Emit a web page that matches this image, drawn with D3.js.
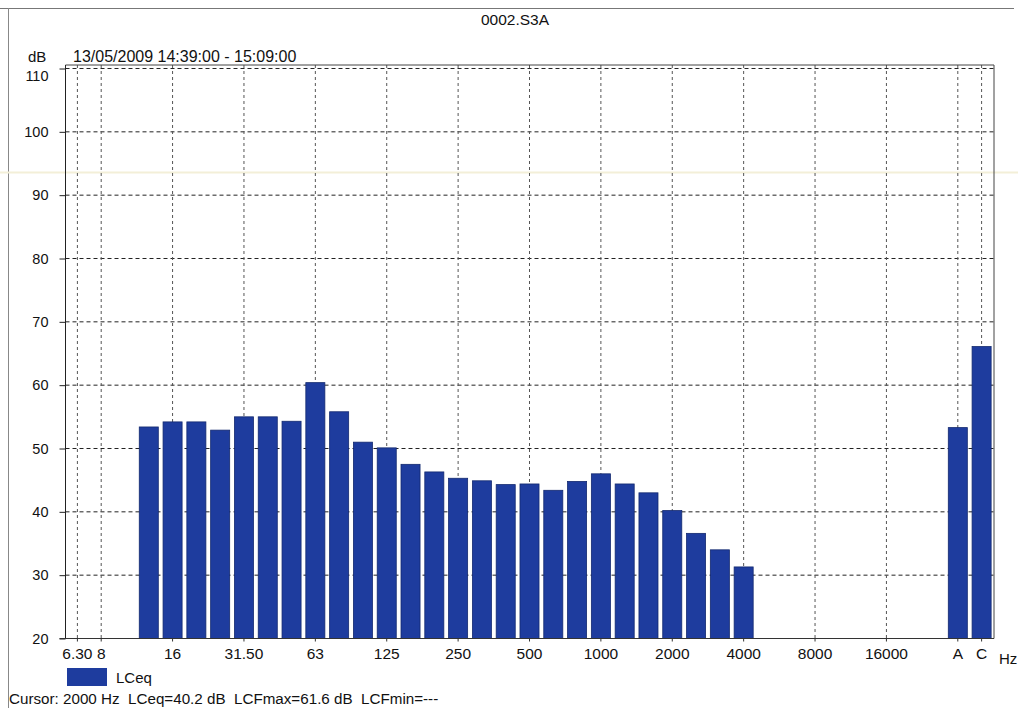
<!DOCTYPE html>
<html>
<head>
<meta charset="utf-8">
<script src="https://cdn.jsdelivr.net/npm/d3@7"></script>
<style>
  html, body { margin: 0; padding: 0; background: #fff; }
  svg { display: block; }
  text { font-family: "Liberation Sans", Arial, sans-serif; fill: #111; }
</style>
</head>
<body>
<svg id="chart" width="1018" height="708"></svg>
<script>
// Third-octave band centres (Hz), followed by a spacer slot and the A / C totals
const bands = ["6.3","8","10","12.5","16","20","25","31.5","40","50","63","80","100","125","160","200","250","315","400","500","630","800","1000","1250","1600","2000","2500","3150","4000","5000","6300","8000","10000","12500","16000","20000","gap","A","C"];
// Labelled bands on the frequency axis and the text shown under each
const tickBands  = ["6.3","8","16","31.5","63","125","250","500","1000","2000","4000","8000","16000","A","C"];
const tickLabels = ["6.30","8","16","31.50","63","125","250","500","1000","2000","4000","8000","16000","A","C"];
// Measured LCeq per band (dB)
const levelBands = ["12.5","16","20","25","31.5","40","50","63","80","100","125","160","200","250","315","400","500","630","800","1000","1250","1600","2000","2500","3150","4000","A","C"];
const levels     = [53.4,54.2,54.2,52.9,55.0,55.0,54.3,60.4,55.8,51.0,50.1,47.5,46.3,45.3,44.9,44.3,44.4,43.4,44.8,46.0,44.4,43.0,40.2,36.6,34.0,31.3,53.3,66.1];
// Level axis ticks (dB)
const dbTicks = [20,30,40,50,60,70,80,90,100,110];

const svg = d3.select("#chart");

const plot = { left: 65.5, right: 993.5, top: 68.5, bottom: 638.5, frameTop: 65 };

const x = d3.scaleBand().domain(bands).range([plot.left, plot.right])
  .paddingInner(0.2).paddingOuter(0.1);
const y = d3.scaleLinear().domain([20, 110]).range([plot.bottom, plot.top]);
const cx = b => x(b) + x.bandwidth() / 2;

// Page edge lines
svg.append("line").attr("x1", 0).attr("x2", 1014).attr("y1", 8.5).attr("y2", 8.5)
  .attr("stroke", "#777").attr("stroke-width", 1.2);
svg.append("line").attr("x1", 8.5).attr("x2", 8.5).attr("y1", 8).attr("y2", 708)
  .attr("stroke", "#888").attr("stroke-width", 1);
// faint scan streak
svg.append("line").attr("x1", 0).attr("x2", 1018).attr("y1", 172.5).attr("y2", 172.5)
  .attr("stroke", "#f3efd8").attr("stroke-width", 2);

// Title and header
svg.append("text").attr("x", 515).attr("y", 25).attr("text-anchor", "middle")
  .style("font-size", "15.5px").text("0002.S3A");
svg.append("text").attr("x", 28).attr("y", 62).style("font-size", "15px").text("dB");
svg.append("text").attr("x", 73).attr("y", 62).style("font-size", "16px")
  .text("13/05/2009 14:39:00 - 15:09:00");

// Horizontal grid
const gridG = svg.append("g");
gridG.selectAll("line.h").data(dbTicks.filter(d => d > 20)).join("line")
  .attr("x1", plot.left).attr("x2", plot.right)
  .attr("y1", d => y(d)).attr("y2", d => y(d))
  .attr("stroke", "#222").attr("stroke-width", 1).attr("stroke-dasharray", "4,3");
// Vertical grid at labelled bands
gridG.selectAll("line.v").data(tickBands).join("line")
  .attr("x1", d => cx(d)).attr("x2", d => cx(d))
  .attr("y1", plot.frameTop).attr("y2", plot.bottom)
  .attr("stroke", "#555").attr("stroke-width", 1).attr("stroke-dasharray", "3,3");

// Bars
svg.append("g").selectAll("rect").data(levelBands.map((b, i) => ({ b, v: levels[i] }))).join("rect")
  .attr("x", d => x(d.b)).attr("width", x.bandwidth())
  .attr("y", d => y(d.v)).attr("height", d => y(20) - y(d.v))
  .attr("fill", "#1e3c9e").attr("stroke", "#13296f").attr("stroke-width", 0.8);

// Frame: top and right solid borders
svg.append("line").attr("x1", plot.left).attr("x2", 994).attr("y1", plot.frameTop).attr("y2", plot.frameTop)
  .attr("stroke", "#444").attr("stroke-width", 1);
svg.append("line").attr("x1", 994).attr("x2", 994).attr("y1", plot.frameTop).attr("y2", plot.bottom)
  .attr("stroke", "#444").attr("stroke-width", 1);

// Level axis
const yAxis = svg.append("g").attr("transform", `translate(${plot.left},0)`)
  .call(d3.axisLeft(y).tickValues(dbTicks).tickSize(6).tickSizeOuter(0).tickPadding(11));
yAxis.select(".domain").attr("d", `M0,${plot.frameTop}V${plot.bottom}`).attr("stroke", "#222");
yAxis.selectAll(".tick line").attr("stroke", "#222");
yAxis.selectAll(".tick text").style("font-size", "14.5px").attr("fill", "#111")
  .attr("dy", d => d === 110 ? "0.8em" : "0.32em");

// Frequency axis
const xAxis = svg.append("g").attr("transform", `translate(0,${plot.bottom})`)
  .call(d3.axisBottom(x).tickValues(tickBands).tickSize(3).tickSizeOuter(0).tickPadding(6)
    .tickFormat(d => tickLabels[tickBands.indexOf(d)]));
xAxis.select(".domain").attr("d", `M${plot.left - 6},0H994`).attr("stroke", "#333");
xAxis.selectAll(".tick line").attr("stroke", "#333");
xAxis.selectAll(".tick text").style("font-size", "15.5px").attr("fill", "#111");
svg.append("text").attr("x", 999).attr("y", 664).style("font-size", "15px").text("Hz");

// Legend
svg.append("rect").attr("x", 67).attr("y", 668).attr("width", 40).attr("height", 18)
  .attr("fill", "#1e3c9e");
svg.append("text").attr("x", 116).attr("y", 683).style("font-size", "15px").text("LCeq");

// Cursor readout
svg.append("text").attr("x", 9).attr("y", 704).style("font-size", "15.2px")
  .text("Cursor: 2000 Hz  LCeq=40.2 dB  LCFmax=61.6 dB  LCFmin=---")
  .attr("xml:space", "preserve").style("white-space", "pre");
</script>
</body>
</html>
